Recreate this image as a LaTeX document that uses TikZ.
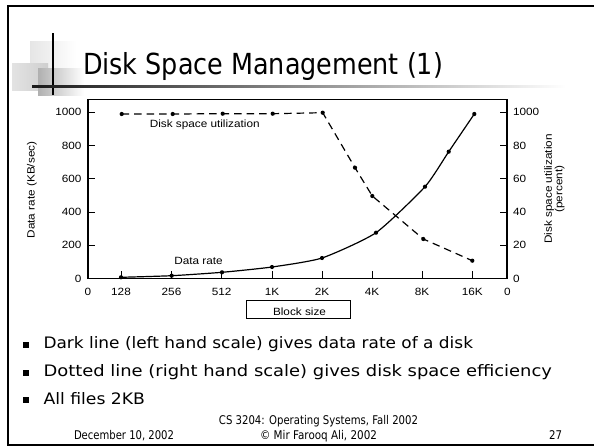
\documentclass[tikz,border=0pt]{standalone}
\usepackage{fontspec}
\usepackage{graphicx}
\setmainfont{DejaVu Sans}
\newfontfamily\chartfont{Liberation Sans}
% stretch a piece of text to a given width, keeping its height
\newcommand{\fitw}[2]{\resizebox{#1}{\height}{#2}}
% text used inside the chart
\newcommand{\ctext}[1]{\scalebox{1.12}[1]{\fontsize{10.5}{12}\chartfont #1}}
\newcommand{\btext}[2]{\fitw{#1}{\fontsize{15.8}{18}\selectfont #2}}
\newcommand{\ftext}[2]{\fitw{#1}{\fontsize{12}{14}\selectfont #2}}

\begin{document}
\begin{tikzpicture}[x=1pt,y=-1pt,
  txt/.style={inner sep=0pt, outer sep=0pt},
  frameline/.style={line width=2.4pt},
  plotframe/.style={line width=1.1pt},
  tickmark/.style={line width=0.8pt},
  rateline/.style={line width=1.2pt},
  utilline/.style={line width=1.2pt, dash pattern=on 7.5pt off 5pt},
  datadot/.style={circle, fill=black, inner sep=0pt, minimum size=4.2pt},
  bulletsq/.style={fill=black, inner sep=0pt, minimum size=6pt}]

\useasboundingbox (0,0) rectangle (594,447);
\fill[white] (0,0) rectangle (594,447);

% slide frame (open on the right)
\draw[frameline] (594,6) -- (8,6) -- (8,445) -- (594,445);

% title ornament
\shade[left color=gray!20, right color=white] (30,41) rectangle (76,86);
\shade[left color=gray!22, right color=gray!38] (12,63) rectangle (48,90);
\shade[left color=gray!62, right color=white] (38,68) rectangle (84,95);
\draw[line width=1.8pt] (53,33) -- (53,95);
\shade[left color=black!90, right color=white] (32,85) rectangle (566,87);

% title
\node[txt, anchor=base west] (title) at (83,74)
  {\fitw{360pt}{\fontsize{29}{32}\selectfont Disk Space Management (1)}};

% chart frame
\coordinate (pnw) at (88,99.5);
\coordinate (pse) at (507,278.5);
\draw[plotframe] (pnw) rectangle (pse);

% y ticks and labels (left: data rate, right: utilization)
\foreach \lv/\rv/\yy in {1000/1000/112.2, 800/80/145.5, 600/60/178.8, 400/40/212.0, 200/20/245.3, 0/0/278.6} {
  \draw[tickmark] (88,\yy) -- (95,\yy);
  \draw[tickmark] (500,\yy) -- (507,\yy);
  \node[txt, anchor=east] (yl\lv) at (81.5,\yy) {\ctext{\lv}};
  \node[txt, anchor=west] (yr\rv) at (513,\yy) {\ctext{\rv}};
}

% x ticks and labels
\foreach \nm/\xx in {128/121, 256/171.5, 512/221.7, 1K/272, 2K/322, 4K/372, 8K/422, 16K/472.3} {
  \draw[tickmark] (\xx,278.5) -- (\xx,271);
  \node[txt] (xl\nm) at (\xx,292) {\ctext{\nm}};
}
\node[txt] (xl0a) at (88,292) {\ctext{0}};
\node[txt] (xl0b) at (507.5,292) {\ctext{0}};

% axis titles
\node[txt, rotate=90] (ylab) at (32,190) {\ctext{Data rate (KB/sec)}};
\node[txt, rotate=90, align=center] (ylabr) at (554.5,189)
  {\ctext{Disk space utilization}\\[-1.5pt]\ctext{(percent)}};

% block size caption box
\node[draw, line width=0.7pt, minimum width=104pt, minimum height=18.5pt, inner sep=0pt] (bsbox) at (298,309.5) {};
\node[txt, anchor=base] (bslab) at (299.5,315.7) {\ctext{Block size}};

% data rate curve (solid)
\coordinate (r1) at (121,277.3);
\coordinate (r2) at (171.7,275.7);
\coordinate (r3) at (222,272.3);
\coordinate (r4) at (272,267);
\coordinate (r5) at (322,258);
\coordinate (r6) at (376,232.7);
\coordinate (r7) at (425,186.7);
\coordinate (r8) at (448.7,151.7);
\coordinate (r9) at (474.3,114);
\draw[rateline] plot[smooth, tension=0.35] coordinates {(r1) (r2) (r3) (r4) (r5) (r6) (r7) (r8) (r9)};
\foreach \i in {1,...,9} \node[datadot] (rd\i) at (r\i) {};

% disk space utilization curve (dashed)
\coordinate (u1) at (121.7,114);
\coordinate (u2) at (172.7,114);
\coordinate (u3) at (222.7,113.7);
\coordinate (u4) at (272.7,113.7);
\coordinate (u5) at (322.7,112.7);
\coordinate (u6) at (355,167.7);
\coordinate (u7) at (372.3,196);
\coordinate (u8) at (423.3,239);
\coordinate (u9) at (472.3,260.7);
\draw[utilline] (u1) -- (u2) -- (u3) -- (u4) -- (u5) -- (u6) -- (u7) -- (u8) -- (u9);
\foreach \i in {1,...,9} \node[datadot] (ud\i) at (u\i) {};

% curve labels
\node[txt] (utillab) at (204.7,124.5) {\ctext{Disk space utilization}};
\node[txt] (ratelab) at (198.5,260.5) {\ctext{Data rate}};

% bullet list
\node[bulletsq] (b1) at (26,344.5) {};
\node[bulletsq] (b2) at (26,372.5) {};
\node[bulletsq] (b3) at (26,400) {};
\node[txt, anchor=base west] (t1) at (43.5,348.5) {\btext{429.5pt}{Dark line (left hand scale) gives data rate of a disk}};
\node[txt, anchor=base west] (t2) at (43.5,376.5) {\btext{508.5pt}{Dotted line (right hand scale) gives disk space efficiency}};
\node[txt, anchor=base west] (t3) at (43.5,404) {\btext{101.5pt}{All files 2KB}};

% footer
\node[txt, anchor=base] (course) at (318.5,424) {\ftext{199pt}{CS 3204: Operating Systems, Fall 2002}};
\node[txt, anchor=base] (copy) at (318.5,439) {\ftext{117pt}{© Mir Farooq Ali, 2002}};
\node[txt, anchor=base west] (date) at (74,439) {\ftext{100pt}{December 10, 2002}};
\node[txt, anchor=base west] (page) at (549,439) {\ftext{13pt}{27}};
\end{tikzpicture}
\end{document}
